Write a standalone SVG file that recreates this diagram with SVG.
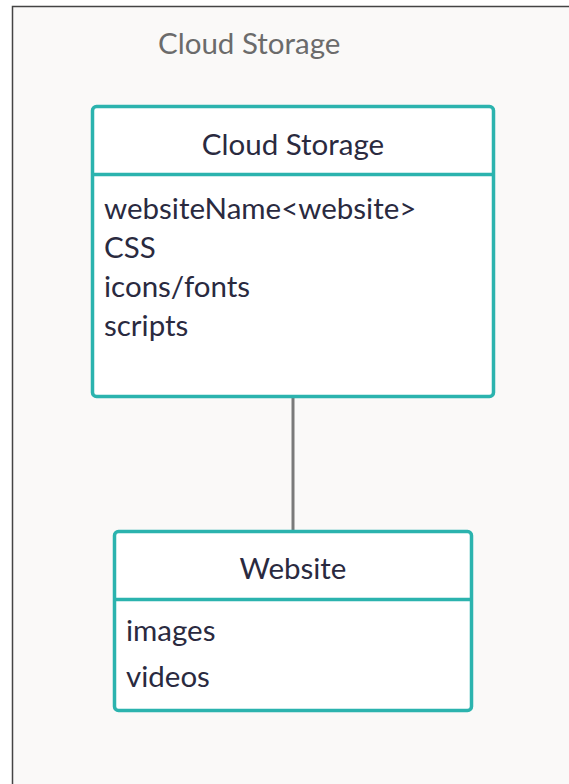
<svg xmlns="http://www.w3.org/2000/svg" width="569" height="784" viewBox="0 0 569 784">
<style>
.box{fill:#ffffff;stroke:#2bb3ae;stroke-width:3.5}
.div{stroke:#2bb3ae;stroke-width:3.5}
.t{font-family:Lato,"Liberation Sans",sans-serif;font-size:29.5px;fill:#2a2a3f}
.h{text-anchor:middle}
.conn{stroke:#7a7a7a;stroke-width:3;fill:none}
</style>
<rect x="0" y="0" width="569" height="784" fill="#ffffff"/>
<rect x="12.5" y="6.5" width="570" height="790" fill="#faf9f8" stroke="#444" stroke-width="1.5"/>
<text x="158" y="54" class="t" style="fill:#6b6b6b">Cloud Storage</text>
<g id="connectors">
<line class="conn" x1="293" y1="397" x2="293" y2="531"/>
</g>
<g id="cloud-storage">
<rect class="box" x="92.5" y="106.5" width="401" height="290" rx="4"/>
<line class="div" x1="92.5" y1="174.5" x2="493.5" y2="174.5"/>
<text class="t h" x="293" y="155">Cloud Storage</text>
<text class="t" x="104" y="219">websiteName&lt;website&gt;</text>
<text class="t" x="104" y="258">CSS</text>
<text class="t" x="104" y="297">icons/fonts</text>
<text class="t" x="104" y="336">scripts</text>
</g>
<g id="website">
<rect class="box" x="114.5" y="531.5" width="357" height="179" rx="4"/>
<line class="div" x1="114.5" y1="599.5" x2="471.5" y2="599.5"/>
<text class="t h" x="293" y="579">Website</text>
<text class="t" x="126" y="641">images</text>
<text class="t" x="126" y="687">videos</text>
</g>
</svg>
